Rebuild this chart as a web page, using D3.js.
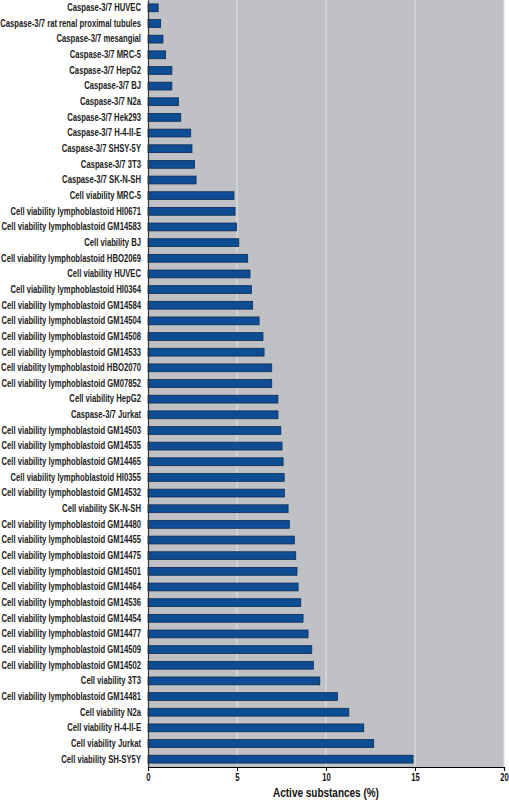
<!DOCTYPE html>
<html>
<head>
<meta charset="utf-8">
<script src="https://cdn.jsdelivr.net/npm/d3@7"></script>
<style>
  html, body { margin: 0; padding: 0; background: #ffffff; }
  svg { display: block; }
  .lbl { font-family: "Liberation Sans", Arial, "DejaVu Sans", sans-serif; font-weight: bold; }
</style>
</head>
<body>
<svg id="chart" width="509" height="800"></svg>
<script>
const categories = [
  "Caspase-3/7 HUVEC",
  "Caspase-3/7 rat renal proximal tubules",
  "Caspase-3/7 mesangial",
  "Caspase-3/7 MRC-5",
  "Caspase-3/7 HepG2",
  "Caspase-3/7 BJ",
  "Caspase-3/7 N2a",
  "Caspase-3/7 Hek293",
  "Caspase-3/7 H-4-II-E",
  "Caspase-3/7 SHSY-5Y",
  "Caspase-3/7 3T3",
  "Caspase-3/7 SK-N-SH",
  "Cell viability MRC-5",
  "Cell viability lymphoblastoid HI0671",
  "Cell viability lymphoblastoid GM14583",
  "Cell viability BJ",
  "Cell viability lymphoblastoid HBO2069",
  "Cell viability HUVEC",
  "Cell viability lymphoblastoid HI0364",
  "Cell viability lymphoblastoid GM14584",
  "Cell viability lymphoblastoid GM14504",
  "Cell viability lymphoblastoid GM14508",
  "Cell viability lymphoblastoid GM14533",
  "Cell viability lymphoblastoid HBO2070",
  "Cell viability lymphoblastoid GM07852",
  "Cell viability HepG2",
  "Caspase-3/7 Jurkat",
  "Cell viability lymphoblastoid GM14503",
  "Cell viability lymphoblastoid GM14535",
  "Cell viability lymphoblastoid GM14465",
  "Cell viability lymphoblastoid HI0355",
  "Cell viability lymphoblastoid GM14532",
  "Cell viability SK-N-SH",
  "Cell viability lymphoblastoid GM14480",
  "Cell viability lymphoblastoid GM14455",
  "Cell viability lymphoblastoid GM14475",
  "Cell viability lymphoblastoid GM14501",
  "Cell viability lymphoblastoid GM14464",
  "Cell viability lymphoblastoid GM14536",
  "Cell viability lymphoblastoid GM14454",
  "Cell viability lymphoblastoid GM14477",
  "Cell viability lymphoblastoid GM14509",
  "Cell viability lymphoblastoid GM14502",
  "Cell viability 3T3",
  "Cell viability lymphoblastoid GM14481",
  "Cell viability N2a",
  "Cell viability H-4-II-E",
  "Cell viability Jurkat",
  "Cell viability SH-SY5Y"
];
const values = [
  0.57, 0.71, 0.84, 0.99, 1.34, 1.34, 1.71, 1.84, 2.40, 2.47, 2.61, 2.70,
  4.83, 4.89, 4.97, 5.10, 5.60, 5.73, 5.81, 5.88, 6.24, 6.46, 6.52, 6.95,
  6.95, 7.30, 7.30, 7.46, 7.53, 7.59, 7.65, 7.66, 7.87, 7.94, 8.22, 8.30,
  8.37, 8.43, 8.58, 8.71, 8.99, 9.20, 9.29, 9.65, 10.64, 11.28, 12.12, 12.68,
  14.89
];
const xTicks = [0, 5, 10, 15, 20];
const xTitle = "Active substances (%)";

const W = 509, H = 800;
const margin = { top: 0, right: 5, bottom: 33, left: 148 };
const iw = W - margin.left - margin.right;
const ih = H - margin.top - margin.bottom;

const svg = d3.select("#chart");
const g = svg.append("g").attr("transform", `translate(${margin.left},${margin.top})`);

const x = d3.scaleLinear().domain([0, 20]).range([0, iw]);
const y = d3.scaleBand().domain(categories).range([0, ih]).paddingInner(0.5).paddingOuter(0.25);

// plot background
g.append("rect").attr("x", 0).attr("y", 0).attr("width", iw).attr("height", ih).attr("fill", "#bfc1c4");

// gridlines
g.selectAll("line.grid").data(xTicks.filter(d => d > 0)).enter().append("line")
  .attr("class", "grid")
  .attr("x1", d => x(d)).attr("x2", d => x(d))
  .attr("y1", 0).attr("y2", ih)
  .attr("stroke", "#e2e3e5").attr("stroke-width", 1);

// bars
g.selectAll("rect.bar").data(categories).enter().append("rect")
  .attr("class", "bar")
  .attr("x", x(0))
  .attr("y", d => y(d))
  .attr("width", (d, i) => x(values[i]) - x(0))
  .attr("height", y.bandwidth())
  .attr("fill", "#0e4c94")
  .attr("stroke", "#0b2c55")
  .attr("stroke-width", 0.8);

// condensed look: compress horizontally so the longest label spans ~141px
const labelRight = 7;
const maxLabelWidth = 141;
const yAxis = g.append("g").call(d3.axisLeft(y).tickSize(0).tickPadding(0));
yAxis.select(".domain").attr("stroke", "#333").attr("stroke-width", 1.2);
const yTexts = yAxis.selectAll("text").attr("class", "lbl").attr("font-size", 10.4).attr("fill", "#222");
let maxW = 0;
yTexts.each(function () { maxW = Math.max(maxW, this.getComputedTextLength()); });
const f = Math.min(1, maxLabelWidth / maxW);
yTexts.attr("x", -labelRight / f).attr("transform", `scale(${f},1)`);

// x axis
const xAxis = g.append("g").attr("transform", `translate(0,${ih})`)
  .call(d3.axisBottom(x).tickValues(xTicks).tickSize(4).tickPadding(3).tickFormat(d3.format("d")));
xAxis.select(".domain").attr("stroke", "#000").attr("stroke-width", 1.2);
xAxis.selectAll(".tick line").attr("stroke", "#000");
xAxis.selectAll("text").attr("class", "lbl").attr("font-size", 10.4).attr("fill", "#111")
  .attr("transform", `scale(${f},1)`);

// x title
const tx = margin.left + x(10);
const title = svg.append("text").attr("class", "lbl")
  .attr("y", 797)
  .attr("text-anchor", "middle").attr("font-size", 13.5).attr("fill", "#111")
  .text(xTitle);
const tw = title.node().getComputedTextLength();
const ft = Math.min(1, 106 / tw);
title.attr("x", tx / ft).attr("transform", `scale(${ft},1)`);
</script>
</body>
</html>
